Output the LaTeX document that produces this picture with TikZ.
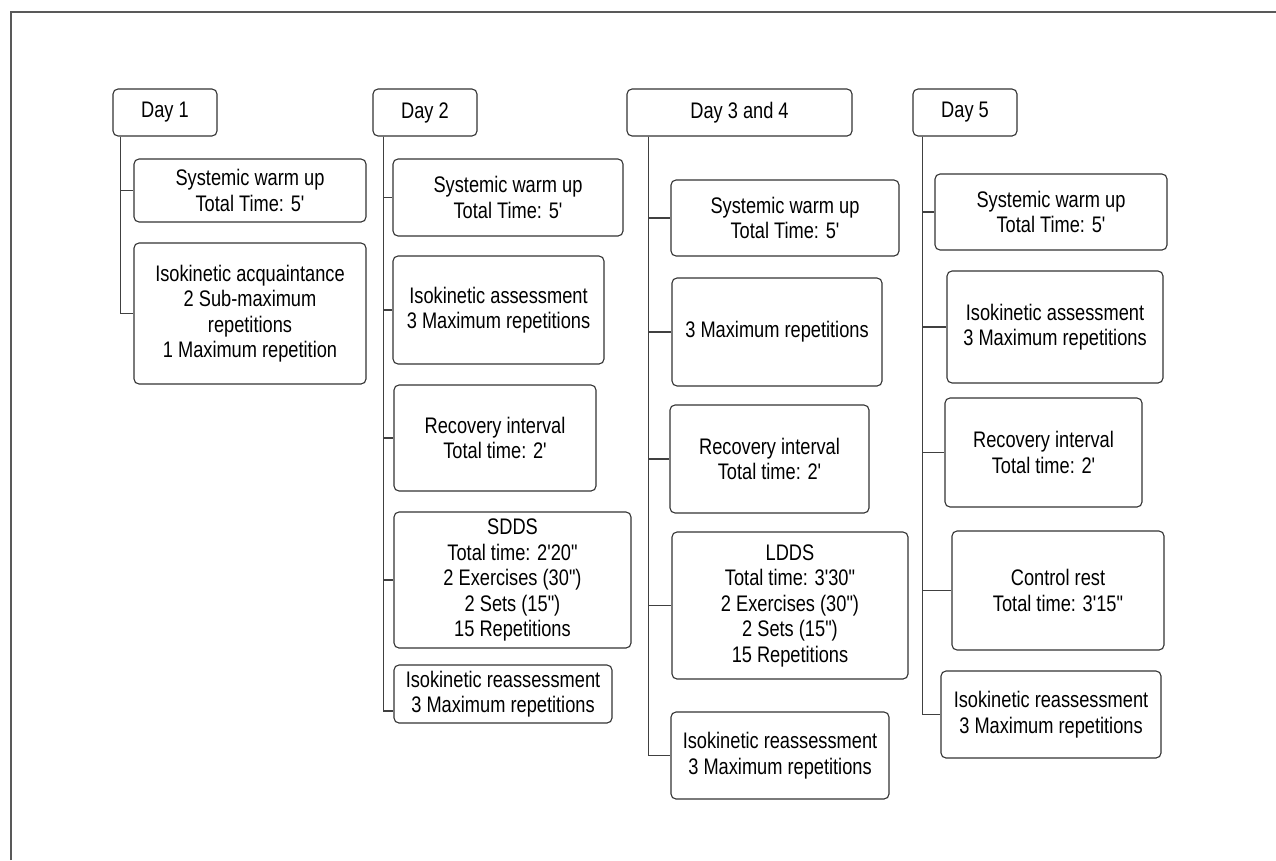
\documentclass[tikz,border=0pt]{standalone}
\usepackage{fontspec}
\setmainfont{Liberation Sans}[FakeStretch=0.81,Ligatures=TeXOff]
\usetikzlibrary{positioning,calc}

\begin{document}
\begin{tikzpicture}[
    x=1pt, y=-1pt,
    font=\fontsize{22.5}{25.5}\selectfont,
    box/.style={draw=black!80, line width=1.1pt, rounded corners=5pt,
        align=center, inner sep=2pt},
    day/.style={box, minimum height=47pt},
    act/.style={box},
    size/.style 2 args={minimum width=#1pt, minimum height=#2pt},
    trunk/.style={draw=black!75, line width=1.1pt},
    frame/.style={draw=black!65, line width=1.6pt},
]
\useasboundingbox (0,0) rectangle (1276,860);

% ---- frame ----
\coordinate (fa) at (11,860);
\coordinate (fb) at (11,12);
\coordinate (fc) at (1276,12);
\draw[frame] (fa) -- (fb) -- (fc);

% ---- Day 1 ----
\node[day, minimum width=104pt] (d1) at (165,112.5) {Day 1};
\node[act, size={232}{63}]  (d1a) at (250,190.5) {Systemic warm up\\Total Time: 5'};
\node[act, size={232}{141}] (d1b) at (250,313.5)
    {Isokinetic acquaintance\\2 Sub-maximum\\repetitions\\1 Maximum repetition};

% ---- Day 2 ----
\node[day, minimum width=104pt] (d2) at (425,112.5) {Day 2};
\node[act, size={230}{77}]  (d2a) at (508,197.5) {Systemic warm up\\Total Time: 5'};
\node[act, size={211}{108}] (d2b) at (498.5,310) {Isokinetic assessment\\3 Maximum repetitions};
\node[act, size={202}{106}] (d2c) at (495,438) {Recovery interval\\Total time: 2'};
\node[act, size={237}{136}] (d2d) at (512.5,580)
    {SDDS\\Total time: 2'20"\\2 Exercises (30")\\2 Sets (15")\\15 Repetitions};
\node[act, size={218}{58}]  (d2e) at (503,694) {Isokinetic reassessment\\3 Maximum repetitions};

% ---- Day 3 and 4 ----
\node[day, minimum width=225pt] (d3) at (739.5,112.5) {Day 3 and 4};
\node[act, size={228}{76}]  (d3a) at (785,218) {Systemic warm up\\Total Time: 5'};
\node[act, size={210}{108}] (d3b) at (777,332) {3 Maximum repetitions};
\node[act, size={199}{108}] (d3c) at (769.5,459) {Recovery interval\\Total time: 2'};
\node[act, size={236}{147}] (d3d) at (790,605.5)
    {LDDS\\Total time: 3'30"\\2 Exercises (30")\\2 Sets (15")\\15 Repetitions};
\node[act, size={218}{87}]  (d3e) at (780,755.5) {Isokinetic reassessment\\3 Maximum repetitions};

% ---- Day 5 ----
\node[day, minimum width=104pt] (d5) at (965,112.5) {Day 5};
\node[act, size={232}{76}]  (d5a) at (1051,212) {Systemic warm up\\Total Time: 5'};
\node[act, size={216}{112}] (d5b) at (1055,327) {Isokinetic assessment\\3 Maximum repetitions};
\node[act, size={197}{109}] (d5c) at (1043.5,452.5) {Recovery interval\\Total time: 2'};
\node[act, size={212}{119}] (d5d) at (1058,590.5) {Control rest\\Total time: 3'15"};
\node[act, size={220}{87}]  (d5e) at (1051,714.5) {Isokinetic reassessment\\3 Maximum repetitions};

% ---- trunks ----
\coordinate (t1) at ([xshift=8pt]d1.south west);
\coordinate (t2) at ([xshift=11pt]d2.south west);
\coordinate (t3) at ([xshift=22pt]d3.south west);
\coordinate (t5) at ([xshift=10pt]d5.south west);

\foreach \b in {d1a,d1b} \draw[trunk] (t1) |- (\b.west);
\foreach \b in {d2a,d2b,d2c,d2d} \draw[trunk] (t2) |- (\b.west);
\draw[trunk] (t2) |- ([yshift=-17pt]d2e.west);
\foreach \b in {d3a,d3b,d3c,d3d,d3e} \draw[trunk] (t3) |- (\b.west);
\foreach \b in {d5a,d5b,d5c,d5d,d5e} \draw[trunk] (t5) |- (\b.west);

\end{tikzpicture}
\end{document}
